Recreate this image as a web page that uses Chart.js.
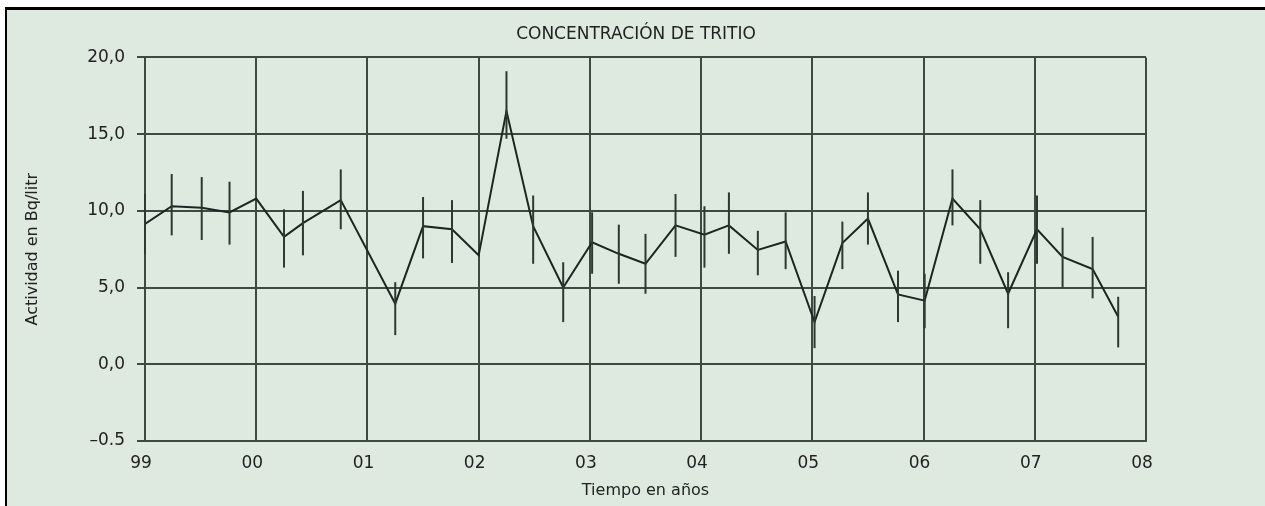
<!DOCTYPE html>
<html>
<head>
<meta charset="utf-8">
<script src="https://cdn.jsdelivr.net/npm/chart.js@4/dist/chart.umd.min.js"></script>
<style>
  html, body { margin: 0; padding: 0; background: #ffffff; }
  #frame {
    position: absolute;
    left: 5px;
    top: 7px;
    width: 1260px;
    height: 499px;
    box-sizing: border-box;
    border-top: 3px solid #000;
    border-left: 2px solid #000;
    background: #deeadf;
  }
  #wrap { position: relative; width: 1258px; height: 496px; }
</style>
</head>
<body>
<div id="frame"><div id="wrap"><canvas id="tritioChart"></canvas></div></div>
<script>
// sample times (decimal years) and measured activity in Bq/litr
const years = [1999.0, 1999.24, 1999.51, 1999.76, 2000.0, 2000.25, 2000.42, 2000.76,
    2001.25, 2001.5, 2001.76, 2002.0, 2002.25, 2002.49, 2002.76, 2003.02, 2003.26,
    2003.5, 2003.77, 2004.03, 2004.25, 2004.51, 2004.76, 2005.02, 2005.27, 2005.5,
    2005.77, 2006.01, 2006.26, 2006.51, 2006.76, 2007.02, 2007.25, 2007.52, 2007.75];
const tritium = [9.15, 10.3, 10.2, 9.9, 10.8, 8.3, 9.2, 10.7, 3.95, 9.0, 8.8, 7.1, 16.5,
    9.0, 5.0, 7.95, 7.2, 6.55, 9.05, 8.45, 9.05, 7.45, 8.0, 2.75, 7.9, 9.5, 4.55, 4.15,
    10.8, 8.8, 4.6, 8.8, 7.0, 6.2, 3.1];
// uncertainty range (top / bottom of each bar); null where it hides under a grid line
const errHigh = [11.1, 12.4, 12.2, 11.9, null, 10.1, 11.3, 12.7, 5.35, 10.9, 10.7, null, 19.1,
    11.0, 6.65, 9.9, 9.1, 8.5, 11.1, 10.3, 11.2, 8.7, 9.9, 4.45, 9.3, 11.2, 6.1, 5.9,
    12.7, 10.7, 6.0, 11.0, 8.9, 8.3, 4.4];
const errLow = [7.2, 8.4, 8.1, 7.8, null, 6.3, 7.1, 8.8, 1.9, 6.9, 6.6, null, 14.7,
    6.55, 2.75, 5.9, 5.25, 4.6, 7.0, 6.3, 7.2, 5.8, 6.2, 1.05, 6.2, 7.8, 2.75, 2.35,
    9.05, 6.55, 2.35, 6.55, 5.0, 4.3, 1.1];

// y ticks; the bottom band of the original axis is labelled "–0.5"
const yTickLabels = { 20: '20,0', 15: '15,0', 10: '10,0', 5: '5,0', 0: '0,0', '-5': '–0.5' };

const FONT = '"DejaVu Sans", "Noto Sans", sans-serif';
const INK = '#222222';
const GRID = '#3d4a41';

// draw the vertical uncertainty bars through the chart's own scales
const errorBars = {
    id: 'errorBars',
    afterDatasetsDraw(chart) {
        const { ctx, scales: { x, y } } = chart;
        ctx.save();
        ctx.strokeStyle = '#2c3830';
        ctx.lineWidth = 2;
        years.forEach((t, i) => {
            if (errHigh[i] == null) return;
            const px = x.getPixelForValue(t);
            ctx.beginPath();
            ctx.moveTo(px, y.getPixelForValue(errHigh[i]));
            ctx.lineTo(px, y.getPixelForValue(errLow[i]));
            ctx.stroke();
        });
        ctx.restore();
    }
};

const ctx = document.getElementById('tritioChart').getContext('2d');
new Chart(ctx, {
    type: 'line',
    data: {
        datasets: [{
            label: 'Tritio',
            data: years.map((t, i) => ({ x: t, y: tritium[i] })),
            borderColor: '#1c2620',
            borderWidth: 2,
            pointRadius: 0,
            tension: 0,
            fill: false
        }]
    },
    options: {
        responsive: true,
        maintainAspectRatio: false,
        animation: false,
        layout: { padding: 0 },
        scales: {
            x: {
                type: 'linear',
                min: 1999,
                max: 2008,
                afterFit: scale => { scale.height = 65; },
                ticks: {
                    stepSize: 1,
                    padding: 12,
                    labelOffset: -4,
                    color: INK,
                    font: { family: FONT, size: 17 },
                    maxRotation: 0,
                    callback: v => String(v % 100).padStart(2, '0')
                },
                grid: { color: GRID, lineWidth: 2, drawTicks: false },
                border: { display: true, color: GRID, width: 2 },
                title: {
                    display: true,
                    text: 'Tiempo en años',
                    color: INK,
                    font: { family: FONT, size: 16 },
                    padding: { top: 0, bottom: 6 }
                }
            },
            y: {
                min: -5,
                max: 20,
                afterFit: scale => { scale.width = 138; },
                ticks: {
                    stepSize: 5,
                    padding: 12,
                    color: INK,
                    font: { family: FONT, size: 17 },
                    callback: v => yTickLabels[v]
                },
                grid: { color: GRID, lineWidth: 2, tickLength: 8 },
                border: { display: true, color: GRID, width: 2 },
                title: {
                    display: true,
                    text: 'Actividad en Bq/litr',
                    color: INK,
                    font: { family: FONT, size: 16 },
                    padding: { top: 16, bottom: 0 }
                }
            },
            // empty right-hand box so the plot stops at "08" while the title stays centred
            yRight: {
                position: 'right',
                min: -5,
                max: 20,
                afterFit: scale => { scale.width = 119; },
                ticks: { display: false },
                grid: { display: false },
                border: { display: false }
            }
        },
        plugins: {
            legend: { display: false },
            tooltip: { enabled: false },
            title: {
                display: true,
                text: 'CONCENTRACIÓN DE TRITIO',
                color: INK,
                font: { family: FONT, size: 17, weight: 'normal' },
                padding: { top: 14, bottom: 13 }
            }
        }
    },
    plugins: [errorBars]
});
</script>
</body>
</html>
